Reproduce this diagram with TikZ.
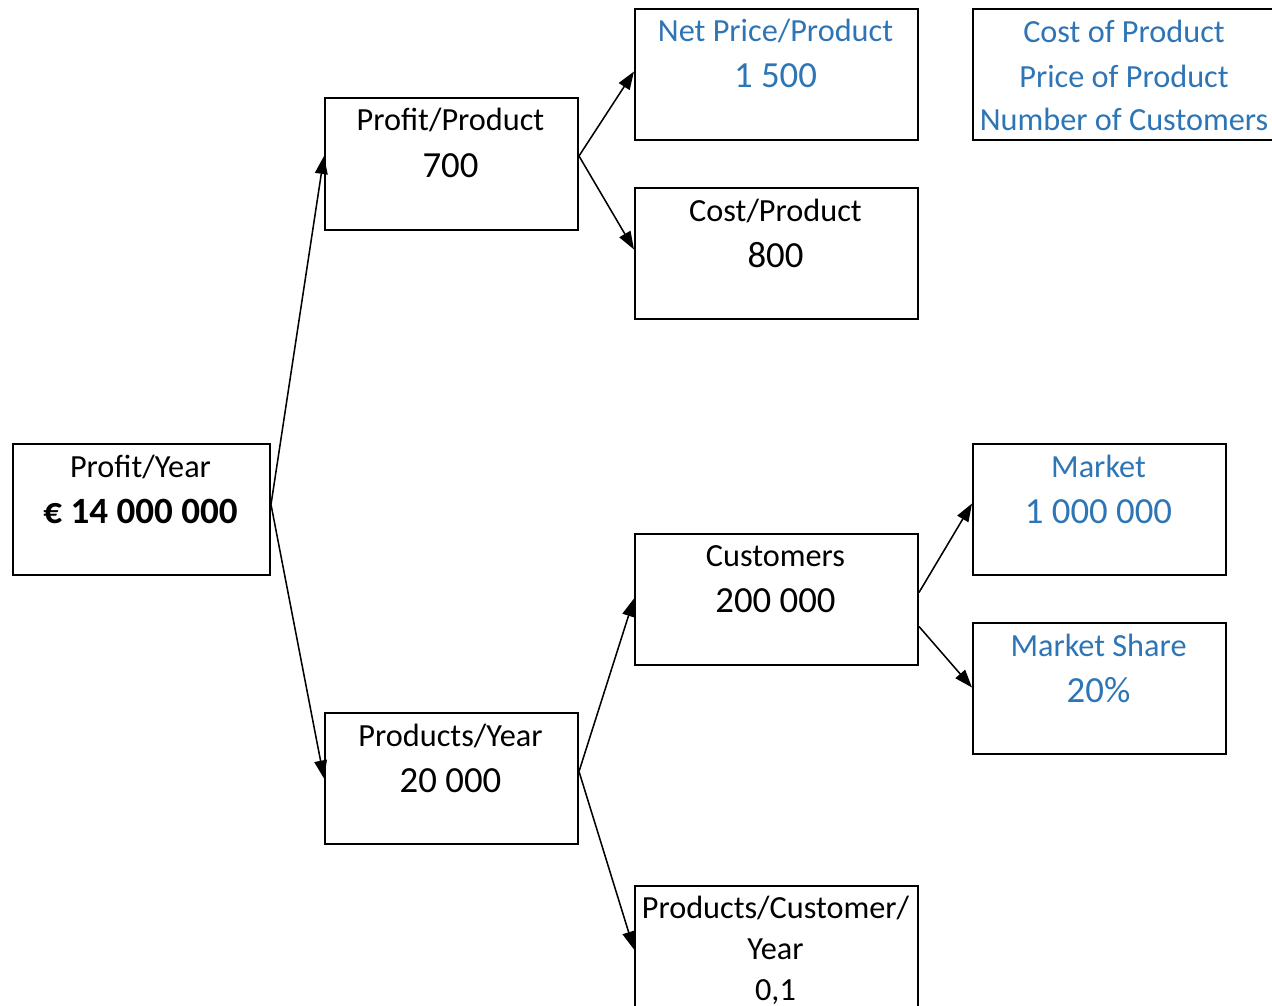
\documentclass[tikz,border=0pt]{standalone}
\usepackage{fontspec}
\setmainfont{Carlito}
\usetikzlibrary{arrows.meta,calc}
\definecolor{offblue}{HTML}{2E75B6}
\begin{document}
\begin{tikzpicture}[x=0.75pt,y=-0.75pt,
  box/.style={draw=black,line width=1.5pt,rectangle,inner sep=0pt,anchor=north west},
  tl/.style={anchor=base,inner sep=0pt,font=\fontsize{24.2}{28}\selectfont},
  vl/.style={anchor=base,inner sep=0pt,font=\fontsize{27.6}{32}\selectfont},
  blue/.style={text=offblue},
  conn/.style={line width=1.15pt,-{Triangle[length=13.5pt,width=9.5pt]}}]
\useasboundingbox (0,0) rectangle (1272,1006);
% boxes
\node[box,minimum width=257*0.75pt,minimum height=131*0.75pt] (PY) at (12,443) {};
\node[box,minimum width=253*0.75pt,minimum height=132*0.75pt] (PP) at (324,97) {};
\node[box,minimum width=253*0.75pt,minimum height=131*0.75pt] (PYr) at (324,712) {};
\node[box,minimum width=283*0.75pt,minimum height=131*0.75pt] (NP) at (634,8) {};
\node[box,minimum width=283*0.75pt,minimum height=131*0.75pt] (CP) at (634,187) {};
\node[box,minimum width=283*0.75pt,minimum height=131*0.75pt] (CU) at (634,533) {};
\node[box,minimum width=283*0.75pt,minimum height=131*0.75pt] (PCY) at (634,885) {};
\node[box,minimum width=310*0.75pt,minimum height=131*0.75pt] (CPP) at (972,8) {};
\node[box,minimum width=253*0.75pt,minimum height=131*0.75pt] (MK) at (972,443) {};
\node[box,minimum width=253*0.75pt,minimum height=131*0.75pt] (MS) at (972,622) {};
% texts
\node[tl] (PYa) at (140.5,477) {Profit/Year};
\node[vl,font=\fontsize{27.8}{32}\selectfont\bfseries] (PYb) at (140.5,523) {€ 14 000 000};
\node[tl] (PPa) at (450.5,131) {Profit/Product};
\node[vl] (PPb) at (450.5,177) {700};
\node[tl] (PYra) at (450.5,746) {Products/Year};
\node[vl] (PYrb) at (450.5,792) {20 000};
\node[tl,blue] (NPa) at (775.5,42) {Net Price/Product};
\node[vl,blue] (NPb) at (775.5,88) {1 500};
\node[tl] (CPa) at (775.5,221) {Cost/Product};
\node[vl] (CPb) at (775.5,267) {800};
\node[tl] (CUa) at (775.5,566) {Customers};
\node[vl] (CUb) at (775.5,612) {200 000};
\node[tl] (PCYa) at (775.5,918) {Products/Customer/};
\node[tl] (PCYb) at (775.5,959) {Year};
\node[tl] (PCYc) at (775.5,1000) {0,1};
\node[tl,blue] (CPPa) at (1124,43) {Cost of Product};
\node[tl,blue] (CPPb) at (1124,88) {Price of Product};
\node[tl,blue] (CPPc) at (1124,131) {Number of Customers};
\node[tl,blue] (MKa) at (1098.5,477) {Market};
\node[vl,blue] (MKb) at (1098.5,523) {1 000 000};
\node[tl,blue] (MSa) at (1098.5,656) {Market Share};
\node[vl,blue] (MSb) at (1098.5,702) {20\%};
% connectors
\draw[conn] ($(PY.east)+(0,-5)$) -- ($(PP.west)+(0,-8)$);
\draw[conn] ($(PY.east)+(0,-5)$) -- ($(PYr.west)+(0,0)$);
\draw[conn] ($(PP.east)+(0,-8)$) -- ($(NP.west)+(0,-3)$);
\draw[conn] ($(PP.east)+(0,-8)$) -- ($(CP.west)+(0,-4)$);
\draw[conn] ($(PYr.east)+(0,-7)$) -- ($(CU.west)+(0,-1)$);
\draw[conn] ($(PYr.east)+(0,-7)$) -- ($(PCY.west)+(0,-2)$);
\draw[conn] ($(CU.east)+(0,-7)$) -- ($(MK.west)+(0,-6)$);
\draw[conn] ($(CU.east)+(0,27)$) -- ($(MS.west)+(0,-1)$);
\end{tikzpicture}
\end{document}
